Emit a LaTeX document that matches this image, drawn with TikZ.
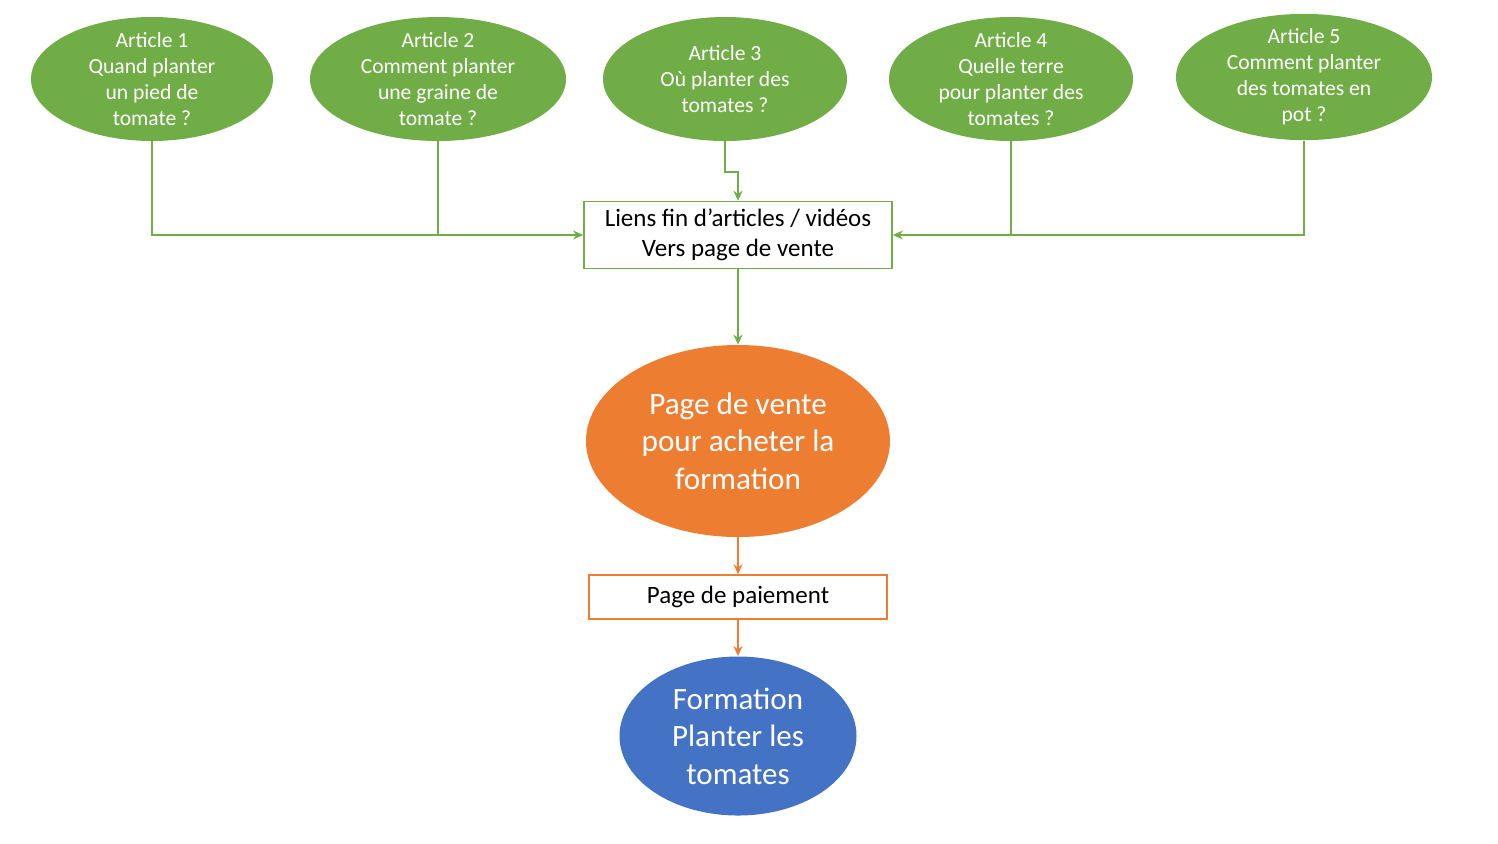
\documentclass[tikz,border=0pt]{standalone}
\usepackage{fontspec}
\setmainfont{Carlito}
\usetikzlibrary{shapes.geometric,arrows.meta}
\definecolor{vert}{HTML}{70AD47}
\definecolor{orange}{HTML}{ED7D31}
\definecolor{bleu}{HTML}{4472C4}
\begin{document}
\begin{tikzpicture}[>={Stealth[length=5pt,width=4.5pt]}, x=0.5pt, y=-0.5pt,
  article/.style={ellipse, fill=vert, text=white, inner xsep=0pt, inner ysep=-1.8pt,
    minimum height=62pt, align=center, font=\fontsize{10.8}{13}\selectfont},
  lien/.style={draw=vert, line width=1pt, ->},
  etape/.style={draw=orange, line width=0.8pt, align=center, inner sep=0pt}]
\useasboundingbox (0,0) rectangle (1498,843);
\foreach \n/\x/\y/\w/\txt in {1/152/79/121/{Article 1\\Quand planter\\un pied de\\tomate ?},
    2/438/79/128/{Article 2\\Comment planter\\une graine de\\tomate ?},
    3/725/79/122/{Article 3\\Où planter des\\tomates ?},
    4/1011/79/122/{Article 4\\Quelle terre\\pour planter des\\tomates ?},
    5/1304/77/128/{Article 5\\Comment planter\\des tomates en\\pot ?}}
{
    \node[article, minimum width=\w pt](a\n) at (\x,\y){\txt};
}
\node[draw=vert, line width=0.8pt, align=center, minimum width=154pt, minimum height=33.5pt,
  inner sep=0pt, font=\fontsize{12.5}{15}\selectfont](liens) at (738,235)
  {Liens fin d’articles / vidéos\\Vers page de vente};
\node[ellipse, fill=orange, text=white, inner sep=0pt, minimum width=152pt, minimum height=96pt,
  align=center, font=\fontsize{15.6}{18.75}\selectfont](vente) at (738,441)
  {Page de vente\\pour acheter la\\formation};
\node[etape, minimum width=149pt, minimum height=22pt, font=\fontsize{12.5}{14}\selectfont]
  (paiement) at (738,597){Page de paiement};
\node[ellipse, fill=bleu, text=white, inner sep=0pt, minimum width=118.5pt, minimum height=79.5pt,
  align=center, font=\fontsize{15.5}{18.75}\selectfont](formation) at (738,736)
  {Formation\\Planter les\\tomates};

\draw[lien](a1.south)|-(liens.west);
\draw[draw=vert, line width=1pt](a2.south)--(a2.south|-liens.west);
\draw[lien](a3.south)--++(0,31)-|(liens.north);
\draw[lien](a5.south)|-(liens.east);
\draw[draw=vert, line width=1pt](a4.south)--(a4.south|-liens.east);
\draw[lien](liens)--(vente);
\draw[draw=orange, line width=1pt, ->](vente)--(paiement);
\draw[draw=orange, line width=1pt, ->](paiement)--(formation);
\end{tikzpicture}
\end{document}
